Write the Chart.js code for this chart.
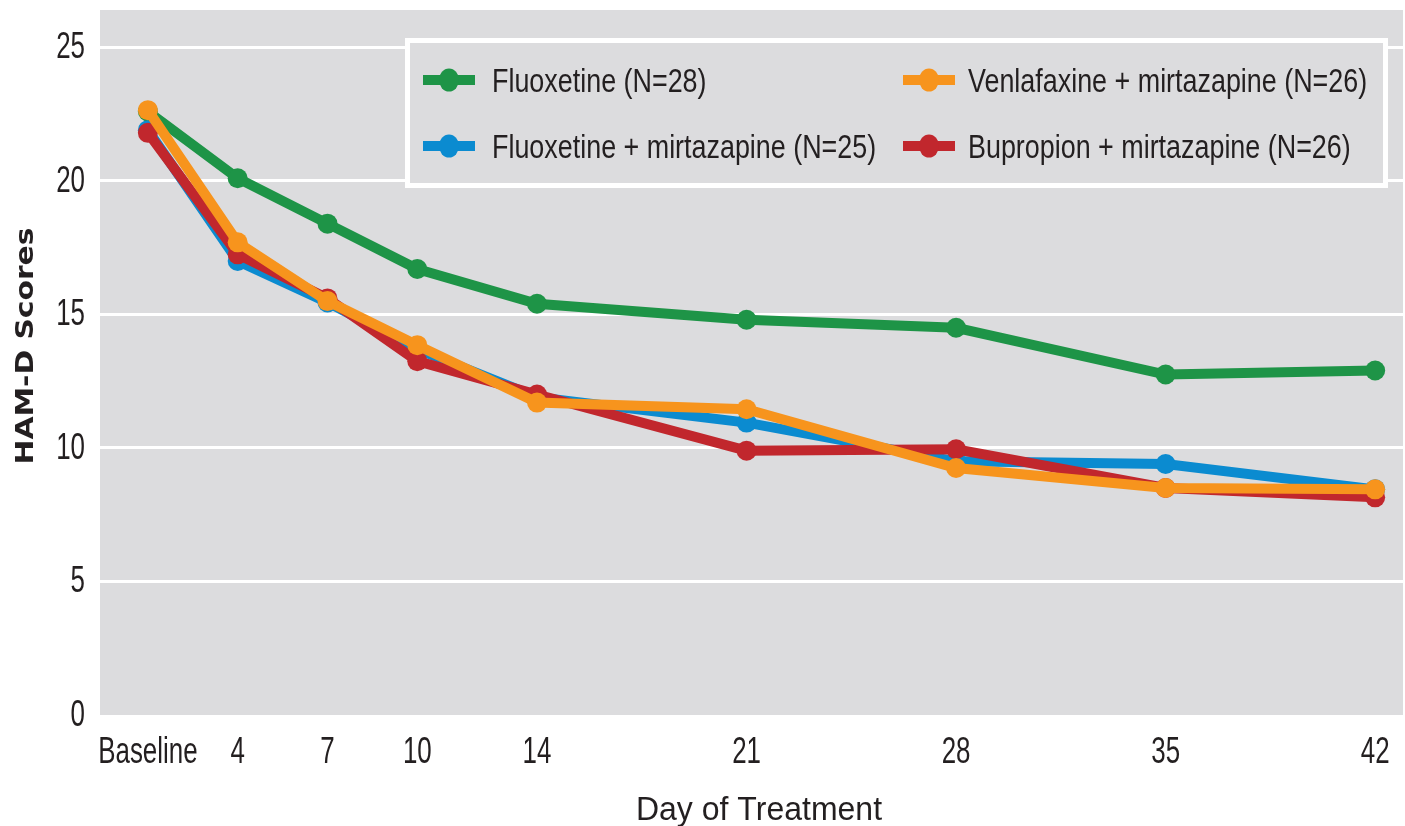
<!DOCTYPE html>
<html>
<head>
<meta charset="utf-8">
<title>HAM-D Scores by Day of Treatment</title>
<script src="https://cdn.jsdelivr.net/npm/chart.js@4.4.1/dist/chart.umd.min.js"></script>
<style>
  html, body { margin: 0; padding: 0; background: #ffffff; }
  #wrap { position: relative; width: 1405px; height: 826px; }
</style>
</head>
<body>
<div id="wrap"><canvas id="chart" width="1405" height="826"></canvas></div>
<script>
// Assessment days (baseline sits one day before the day-4 visit on the time axis)
const days = [1, 4, 7, 10, 14, 21, 28, 35, 42];
const dayLabels = ['Baseline', '4', '7', '10', '14', '21', '28', '35', '42'];
const yTicks = [0, 5, 10, 15, 20, 25];

// Mean HAM-D scores per treatment group
const fluoxetine        = [22.6, 20.1, 18.4, 16.7, 15.4, 14.8, 14.5, 12.75, 12.9];
const fluoxetineMirt    = [21.9, 17.0, 15.45, 13.7, 11.9, 10.95, 9.5, 9.4, 8.45];
const venlafaxineMirt   = [22.65, 17.7, 15.5, 13.85, 11.7, 11.45, 9.25, 8.5, 8.45];
const bupropionMirt     = [21.8, 17.25, 15.6, 13.25, 12.0, 9.9, 9.95, 8.5, 8.15];

const seriesNames = [
  'Fluoxetine (N=28)',
  'Fluoxetine + mirtazapine (N=25)',
  'Venlafaxine + mirtazapine (N=26)',
  'Bupropion + mirtazapine (N=26)'
];
const xTitle = 'Day of Treatment';
const yTitle = 'HAM-D Scores';

const COLORS = {
  green: '#1e9447',
  blue: '#0b8bd0',
  orange: '#f7941d',
  red: '#c1272d'
};

const SANS = "'Liberation Sans', Arial, sans-serif";
const TEXT_COLOR = '#231f20';
const PLOT_BG = '#dcdcde';

function toPoints(values) {
  return values.map((v, i) => ({ x: days[i], y: v }));
}

function lineDataset(label, values, color, order) {
  return {
    label: label,
    data: toPoints(values),
    borderColor: color,
    backgroundColor: color,
    pointBackgroundColor: color,
    pointBorderColor: color,
    borderWidth: 10,
    pointRadius: 10,
    pointHoverRadius: 10,
    pointBorderWidth: 0,
    tension: 0,
    order: order
  };
}

// Draws text squeezed horizontally to mimic a condensed typeface
function condensedText(ctx, text, x, y, opts) {
  const o = Object.assign({ size: 34, sx: 0.75, align: 'left', baseline: 'alphabetic', weight: 'normal', family: SANS, rotate: 0 }, opts);
  ctx.save();
  ctx.translate(x, y);
  if (o.rotate) ctx.rotate(o.rotate);
  ctx.scale(o.sx, 1);
  ctx.font = o.weight + ' ' + o.size + 'px ' + o.family;
  ctx.fillStyle = TEXT_COLOR;
  ctx.textAlign = o.align;
  ctx.textBaseline = o.baseline;
  ctx.fillText(text, 0, 0);
  ctx.restore();
}

// Grey plotting field behind the grid
const plotBackground = {
  id: 'plotBackground',
  beforeDraw(chart) {
    const { ctx, chartArea: a } = chart;
    ctx.save();
    ctx.fillStyle = PLOT_BG;
    ctx.fillRect(a.left, a.top, a.right - a.left, a.bottom - a.top);
    ctx.restore();
  }
};

// Axis tick labels and titles, placed from the chart's own scales
const axisText = {
  id: 'axisText',
  afterDraw(chart) {
    const { ctx, scales: { x, y } } = chart;
    yTicks.forEach(v => {
      condensedText(ctx, String(v), y.right - 15, y.getPixelForValue(v) + 11, { size: 36, sx: 0.72, align: 'right' });
    });
    days.forEach((d, i) => {
      condensedText(ctx, dayLabels[i], x.getPixelForValue(d), 763, { size: 36, sx: 0.72, align: 'center' });
    });
    condensedText(ctx, xTitle, 759, 820, { size: 33, sx: 0.97, align: 'center' });
    condensedText(ctx, yTitle, 33, 346, {
      size: 25, sx: 1.19, align: 'center', weight: 'bold',
      family: "'DejaVu Sans', sans-serif", rotate: -Math.PI / 2
    });
  }
};

// Two-column boxed legend inside the plot
const boxedLegend = {
  id: 'boxedLegend',
  afterDraw(chart) {
    const { ctx } = chart;
    const box = { x: 407.5, y: 40.5, w: 978, h: 145 };
    ctx.save();
    ctx.fillStyle = PLOT_BG;
    ctx.fillRect(box.x, box.y, box.w, box.h);
    ctx.strokeStyle = '#ffffff';
    ctx.lineWidth = 5;
    ctx.strokeRect(box.x, box.y, box.w, box.h);
    ctx.restore();

    const items = [
      { text: seriesNames[0], color: COLORS.green,  sx: 423, tx: 492, cy: 80 },
      { text: seriesNames[1], color: COLORS.blue,   sx: 423, tx: 492, cy: 146 },
      { text: seriesNames[2], color: COLORS.orange, sx: 903, tx: 968, cy: 80 },
      { text: seriesNames[3], color: COLORS.red,    sx: 903, tx: 968, cy: 146 }
    ];
    items.forEach(it => {
      ctx.save();
      ctx.fillStyle = it.color;
      ctx.fillRect(it.sx, it.cy - 5, 52, 10);
      ctx.beginPath();
      ctx.ellipse(it.sx + 26, it.cy, 10, 11.5, 0, 0, Math.PI * 2);
      ctx.fill();
      ctx.restore();
      condensedText(ctx, it.text, it.tx, it.cy + 12, { size: 33, sx: 0.815 });
    });
  }
};

const chart = new Chart(document.getElementById('chart'), {
  type: 'line',
  data: {
    datasets: [
      lineDataset(seriesNames[0], fluoxetine, COLORS.green, 3),
      lineDataset(seriesNames[1], fluoxetineMirt, COLORS.blue, 2),
      lineDataset(seriesNames[2], venlafaxineMirt, COLORS.orange, 0),
      lineDataset(seriesNames[3], bupropionMirt, COLORS.red, 1)
    ]
  },
  options: {
    responsive: false,
    animation: false,
    events: [],
    layout: { autoPadding: false, padding: { top: 10, right: 2, left: 0, bottom: 0 } },
    plugins: {
      legend: { display: false },
      tooltip: { enabled: false }
    },
    scales: {
      x: {
        type: 'linear',
        min: -0.6,
        max: 42.93,
        border: { display: false },
        grid: { display: false, drawTicks: false },
        afterBuildTicks(scale) {
          scale.ticks = days.map(v => ({ value: v }));
        },
        afterFit(scale) {
          scale.height = 111;
          scale.paddingLeft = 0;
          scale.paddingRight = 0;
        },
        ticks: { display: false },
        title: { display: false }
      },
      y: {
        type: 'linear',
        min: 0,
        max: 26.4,
        border: { display: false },
        grid: {
          drawTicks: false,
          lineWidth: 3,
          color(ctx) { return ctx.tick && ctx.tick.value === 0 ? 'rgba(0,0,0,0)' : '#ffffff'; }
        },
        afterBuildTicks(scale) {
          scale.ticks = yTicks.map(v => ({ value: v }));
        },
        afterFit(scale) {
          scale.width = 100;
          scale.paddingTop = 0;
          scale.paddingBottom = 0;
        },
        ticks: { display: false },
        title: { display: false }
      }
    }
  },
  plugins: [plotBackground, axisText, boxedLegend]
});
</script>
</body>
</html>
